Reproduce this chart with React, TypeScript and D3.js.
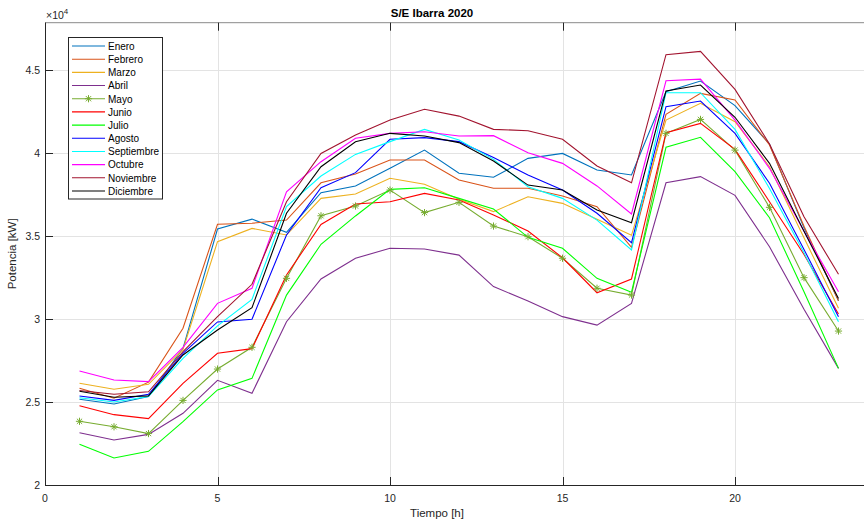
import React from "react";
import * as d3 from "d3";

const hours = d3.range(1, 24);
const months = ["Enero","Febrero","Marzo","Abril","Mayo","Junio","Julio","Agosto","Septiembre","Octubre","Noviembre","Diciembre"];
const colors = ["#0072BD","#D95319","#EDB120","#7E2F8E","#77AC30","#FF0000","#00FF00","#0000FF","#00FFFF","#FF00FF","#A2142F","#000000"];

const enero = [25165,24880,25330,28240,35430,36030,35230,37620,38030,39090,40190,38790,38550,39690,39990,38990,38690,43710,44350,42870,40560,35500,31110];
const febrero = [25830,25230,26200,29450,35720,35780,35970,38220,38750,39590,39590,38390,37890,37890,37420,36780,34330,42350,43610,43210,40500,35600,31110];
const marzo = [26130,25770,26070,28170,34670,35470,35070,37280,37540,38490,38130,37220,36480,37380,36980,36020,35050,42000,43010,41900,39190,34900,30650];
const abril = [23150,22710,23050,24320,26310,25530,29840,32420,33670,34270,34230,33860,31960,31090,30150,29640,30950,38220,38590,37460,34360,30600,27030];
const mayo = [23840,23510,23100,25100,26990,28300,32460,36230,36820,37780,36420,37040,35610,34970,33670,31860,31450,41200,42040,40190,36740,32500,29280];
const junio = [24780,24240,24000,26130,27940,28220,32660,35710,36940,37080,37580,37180,36280,35310,33700,31590,32420,41240,41800,40230,37080,33900,30310];
const julio = [22450,21630,22030,23820,25730,26430,31450,34510,36220,37820,37920,37280,36640,34930,34270,32460,31620,40360,40960,38890,36110,31650,27030];
const agosto = [25365,25100,25470,27940,29830,29990,35070,37920,38830,40840,40940,40700,39750,38690,37780,36380,34610,42810,43150,41200,38190,34200,30150];
const septiembre = [25260,25000,25330,27640,29590,31190,36780,38630,39930,40700,41440,40800,39630,37980,37280,35970,34170,43650,43650,41440,37880,34000,29840];
const octubre = [26870,26330,26230,28300,30950,31860,37680,39490,40900,41200,41300,41040,41060,40030,39390,38030,36340,44370,44470,42000,39090,35300,31650];
const noviembre = [25700,25470,25620,28040,30150,32100,37080,39990,41100,42000,42650,42240,41440,41360,40840,39230,38220,45940,46140,43850,40560,36170,32700];
const diciembre = [25650,25290,25370,27840,29340,30690,36380,39190,40690,41200,41040,40640,39530,38080,37780,36580,35810,43750,44110,42170,39390,35300,31250];

const series = [enero,febrero,marzo,abril,mayo,junio,julio,agosto,septiembre,octubre,noviembre,diciembre];

const xTicks = [0, 5, 10, 15, 20];
const yTicks = [20000, 25000, 30000, 35000, 40000, 45000];

const W = 864, H = 522;
const L = 45, R = 873, T = 22.7, B = 485;
const FONT = "'Liberation Sans', Arial, Helvetica, sans-serif";
const AX = "#262626";

function Star({ x, y, c }: { x: number; y: number; c: string }) {
  const s = 3.6, d = 2.6;
  return (
    <g stroke={c} strokeWidth={1}>
      <line x1={x - s} y1={y} x2={x + s} y2={y} />
      <line x1={x} y1={y - s} x2={x} y2={y + s} />
      <line x1={x - d} y1={y - d} x2={x + d} y2={y + d} />
      <line x1={x - d} y1={y + d} x2={x + d} y2={y - d} />
    </g>
  );
}

export default function App() {
  const x = d3.scaleLinear().domain([0, 24]).range([L, R]);
  const y = d3.scaleLinear().domain([20000, 47870]).range([B, T]);
  const line = d3.line<number>().x((_, i) => x(hours[i])).y((v) => y(v));

  const legX = 68.5, legY = 37.5, legW = 94, legH = 161.5;
  const rowH = 13.18;

  return (
    <svg width={W} height={H} style={{ position: "absolute", left: 0, top: 0, background: "#fff" }} fontFamily={FONT}>
      <defs>
        <clipPath id="plot"><rect x={L} y={T} width={R - L} height={B - T} /></clipPath>
      </defs>
      {/* grid */}
      <g stroke="#e3e3e3" strokeWidth={1}>
        {xTicks.slice(1).map((t) => (
          <line key={"gx" + t} x1={Math.round(x(t)) + 0.5} x2={Math.round(x(t)) + 0.5} y1={T} y2={B} />
        ))}
        {yTicks.slice(1).map((t) => (
          <line key={"gy" + t} x1={L} x2={R} y1={Math.round(y(t)) + 0.5} y2={Math.round(y(t)) + 0.5} />
        ))}
      </g>
      {/* series */}
      <g clipPath="url(#plot)" fill="none">
        {series.map((s, i) => (
          <path key={months[i]} d={line(s) || ""} stroke={colors[i]} strokeWidth={1.1} fill="none" />
        ))}
        {mayo.map((v, i) => (
          <Star key={"m" + i} x={x(hours[i])} y={y(v)} c={colors[4]} />
        ))}
      </g>
      {/* axes box */}
      <g stroke={AX} strokeWidth={1} fill="none">
        <line x1={L + 0.5} x2={L + 0.5} y1={T} y2={B} />
        <line x1={L} x2={R} y1={B + 0.5} y2={B + 0.5} />
        <line x1={L} x2={R} y1={T} y2={T} stroke="#8a8a8a" />
        {xTicks.map((t) => (
          <g key={"xt" + t}>
            <line x1={Math.round(x(t)) + 0.5} x2={Math.round(x(t)) + 0.5} y1={B} y2={B - 8} />
            <line x1={Math.round(x(t)) + 0.5} x2={Math.round(x(t)) + 0.5} y1={T} y2={T + 8} />
          </g>
        ))}
        {yTicks.map((t) => (
          <line key={"yt" + t} x1={L} x2={L + 8} y1={Math.round(y(t)) + 0.5} y2={Math.round(y(t)) + 0.5} />
        ))}
      </g>
      {/* tick labels */}
      <g fill={AX} fontSize={10.5}>
        {xTicks.map((t) => (
          <text key={"xl" + t} x={x(t)} y={B + 17} textAnchor="middle">{t}</text>
        ))}
        {yTicks.map((t) => (
          <text key={"yl" + t} x={L - 5} y={y(t) + 4} textAnchor="end">{d3.format("~g")(t / 10000)}</text>
        ))}
        <text x={46} y={19} fontSize={10.5}>
          ×10<tspan dy={-5} fontSize={8}>4</tspan>
        </text>
      </g>
      {/* labels */}
      <text x={432} y={17} textAnchor="middle" fontWeight="bold" fontSize={11.5} fill="#000">S/E Ibarra 2020</text>
      <text x={437} y={517} textAnchor="middle" fontSize={11.5} fill={AX}>Tiempo [h]</text>
      <text transform={`translate(16,${(T + B) / 2}) rotate(-90)`} textAnchor="middle" fontSize={11.5} fill={AX}>Potencia [kW]</text>
      {/* legend */}
      <g>
        <rect x={legX} y={legY} width={legW} height={legH} fill="#fff" stroke={AX} strokeWidth={1} />
        {months.map((m, i) => {
          const cy = 46 + i * rowH;
          return (
            <g key={"lg" + m}>
              <line x1={72} x2={105} y1={cy} y2={cy} stroke={colors[i]} strokeWidth={1.1} />
              {i === 4 && <Star x={88.5} y={cy} c={colors[4]} />}
              <text x={108} y={cy + 3.8} fontSize={10} fill="#000">{m}</text>
            </g>
          );
        })}
      </g>
    </svg>
  );
}
